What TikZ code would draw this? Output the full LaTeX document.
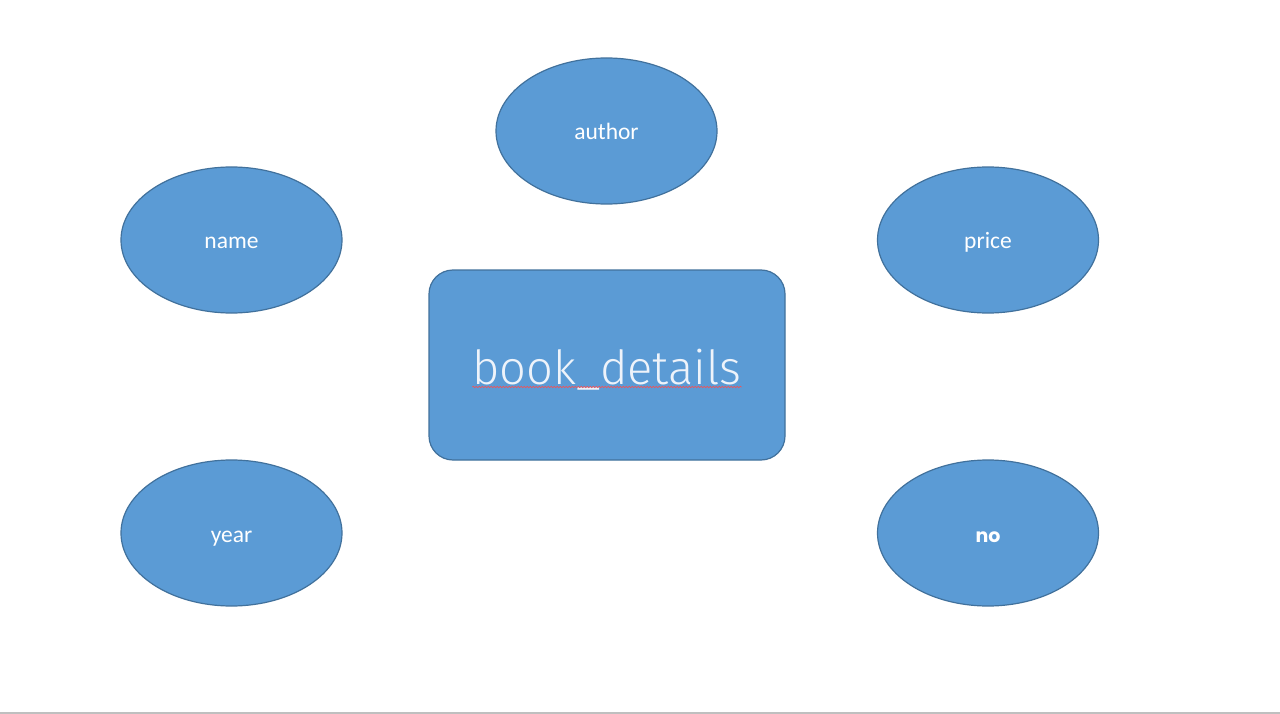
\documentclass[tikz,border=0pt]{standalone}
\usepackage{fontspec}
\setmainfont{Carlito}
\newfontfamily\titlefont{Fira Sans Light}
\newfontfamily\boldround{Poppins Bold}
\usetikzlibrary{shapes.geometric,decorations.pathmorphing}
\definecolor{shapefill}{HTML}{5B9BD5}
\definecolor{shapeedge}{HTML}{41719C}
\definecolor{titletext}{HTML}{EEF3FA}
\tikzset{
  attr/.style={ellipse, draw=shapeedge, fill=shapefill, line width=1.2pt,
    minimum width=221pt, minimum height=146pt, inner sep=0pt},
  attrlabel/.style={text=white, font=\fontsize{23.5}{28}\selectfont, inner sep=0pt, anchor=base},
  entitybox/.style={rectangle, rounded corners=24pt, draw=shapeedge, fill=shapefill,
    line width=1.2pt, minimum width=356pt, minimum height=190pt, inner sep=0pt},
}
\begin{document}
\begin{tikzpicture}[x=1pt,y=-1pt]
  \useasboundingbox (0,0) rectangle (1280,714);
  \fill[white] (0,0) rectangle (1280,714);
  % page edge at the bottom
  \draw[black!25, line width=1.2pt] (0,713) -- (1280,713);

  \node[entitybox] (book) at (607,365) {};
  \node[text=titletext, font=\titlefont\fontsize{47}{56}\selectfont, inner sep=0pt, anchor=base]
    (title) at (607,384) {book\_details};
  % spell-check underline
  \draw[red!70!white, line width=0.6pt,
        decorate, decoration={snake, amplitude=0.7pt, segment length=3pt}]
    ([yshift=-3pt]title.base west) -- ([yshift=-3pt]title.base east);

  \node[attr] (author) at (606.5,131) {};
  \node[attr] (name)   at (231.5,240) {};
  \node[attr] (price)  at (988,240)   {};
  \node[attr] (year)   at (231.5,533) {};
  \node[attr] (no)     at (988,533)   {};

  \node[attrlabel] (authorlbl) at ([yshift=-9pt]author.center) {author};
  \node[attrlabel] (namelbl)   at ([yshift=-9pt]name.center)   {name};
  \node[attrlabel] (pricelbl)  at ([yshift=-9pt]price.center)  {price};
  \node[attrlabel] (yearlbl)   at ([yshift=-9pt]year.center)   {year};
  \node[attrlabel, font=\boldround\fontsize{19}{22}\selectfont] (nolbl)
    at ([yshift=-9.5pt]no.center) {no};
\end{tikzpicture}
\end{document}
